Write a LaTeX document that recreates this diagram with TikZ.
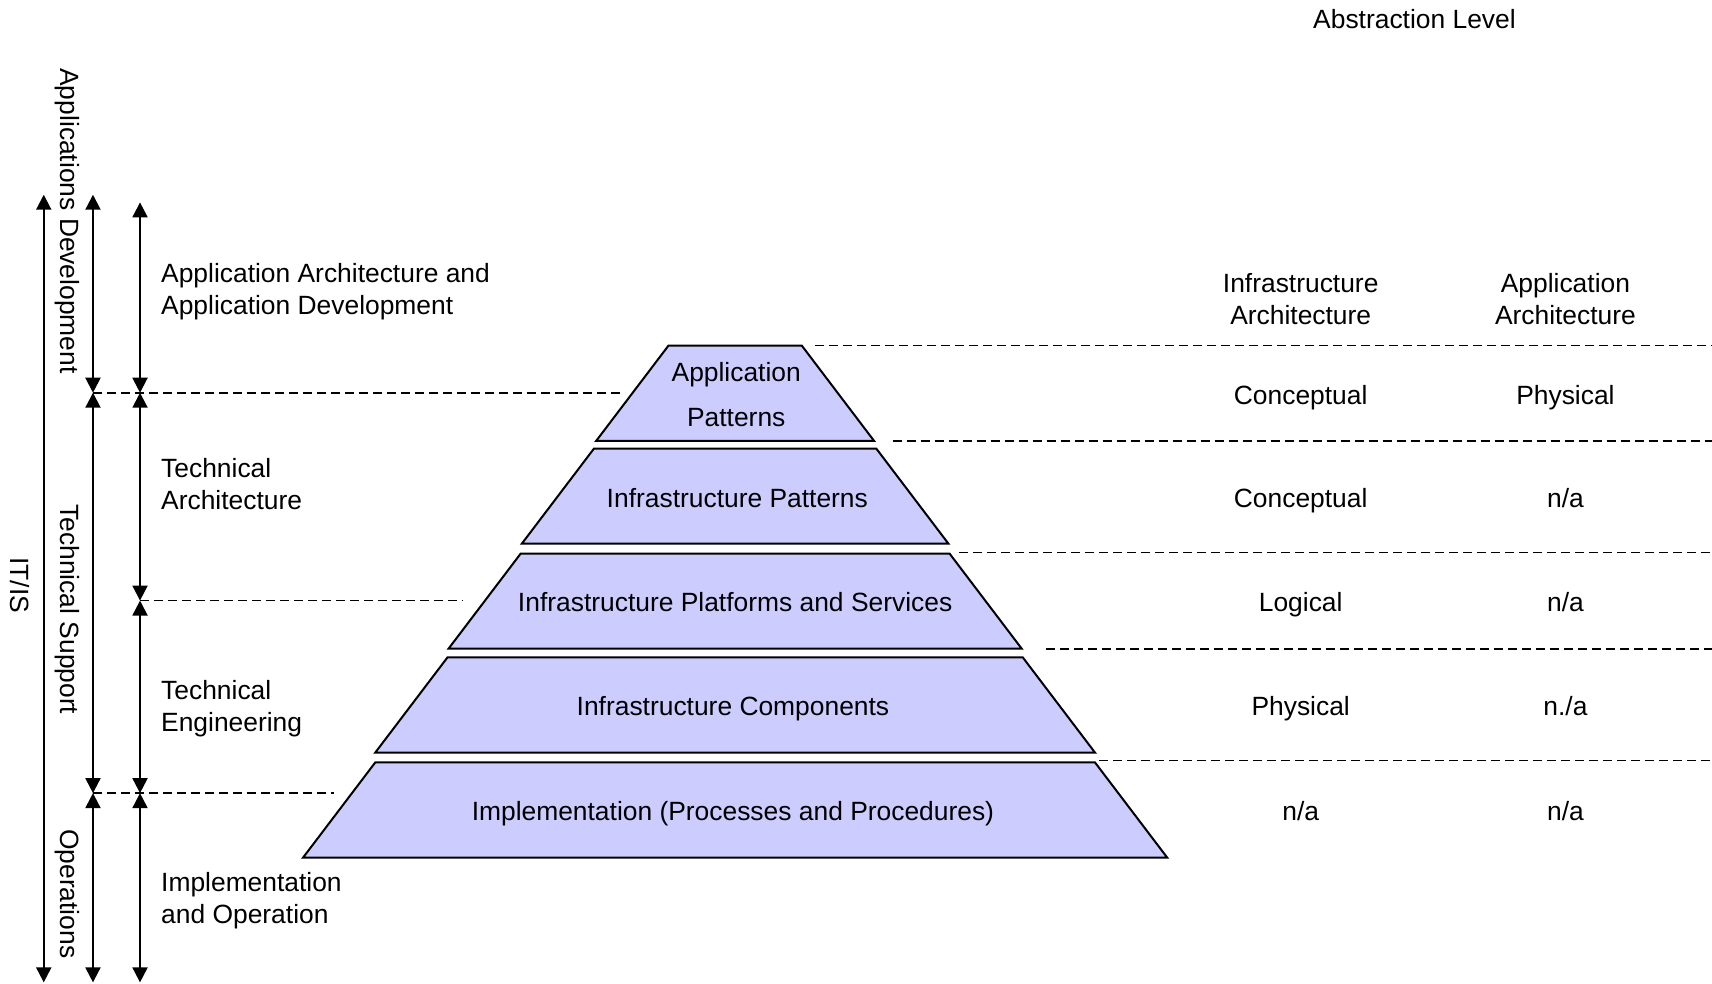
\documentclass[tikz,border=0pt]{standalone}
\usepackage{fontspec}
\setmainfont{Liberation Sans}
\usetikzlibrary{arrows.meta}
\definecolor{layerblue}{HTML}{CCCCFF}
\tikzset{>={Triangle[width=7.5pt,length=7.5pt]}}
\tikzset{
  layer/.style={draw=black, line width=1pt, fill=layerblue},
  lbl/.style={inner sep=0pt, font=\fontsize{13.2}{15.9}\selectfont},
  sidelbl/.style={lbl, align=left, anchor=west},
  collbl/.style={lbl, align=center},
  rowlbl/.style={lbl, text height=10.5pt, text depth=1pt},
  vertlbl/.style={lbl, rotate=-90},
  sepline/.style={dash pattern=on 4.5pt off 2.5pt, line width=0.8pt},
  rangearrow/.style={<->, line width=1pt}
}

\begin{document}
\begin{tikzpicture}[x=0.547pt, y=-0.547pt]
\useasboundingbox (0,0) rectangle (1565,898.6);
% pyramid layers
\foreach \yt/\hw in {316/61, 410/129, 506/196, 601/263, 697/329}
  \draw[layer] (672-\hw,\yt) -- (672+\hw,\yt) -- (672+\hw+66,\yt+87)
    -- (672-\hw-66,\yt+87) -- cycle;
\node[collbl] (appat) at (673,360.5) {Application\\[6.5pt]Patterns};
\node[rowlbl] (infpat) at (674,455) {Infrastructure Patterns};
\node[rowlbl] (infplat) at (672,550) {Infrastructure Platforms and Services};
\node[rowlbl] (infcomp) at (670,645) {Infrastructure Components};
\node[rowlbl] (impl) at (670,741) {Implementation (Processes and Procedures)};

% arrow end points
\coordinate (a1) at (40,178);  \coordinate (a2) at (40,898);
\coordinate (b1) at (85,178);  \coordinate (b2) at (85,359);
\coordinate (b3) at (85,725);  \coordinate (b4) at (85,898);
\coordinate (c1) at (128,185); \coordinate (c2) at (128,359);
\coordinate (c3) at (128,549); \coordinate (c4) at (128,725);
\coordinate (c5) at (128,898);
\draw[rangearrow] (a1) -- (a2);
\draw[rangearrow] (b1) -- (b2);
\draw[rangearrow] (b2) -- (b3);
\draw[rangearrow] (b3) -- (b4);
\draw[rangearrow] (c1) -- (c2);
\draw[rangearrow] (c2) -- (c3);
\draw[rangearrow] (c3) -- (c4);
\draw[rangearrow] (c4) -- (c5);

% dashed level lines
\coordinate (l1) at (570,359);
\coordinate (l2) at (423,549);
\coordinate (l3) at (305,725);
\draw[sepline] (b2) -- (l1);
\draw[sepline] (c3) -- (l2);
\draw[sepline] (b3) -- (l3);
\foreach \ys/\xs in {316/745, 403/816, 505/877, 593/956, 695/1005}
  \draw[sepline] (\xs,\ys) -- (1565,\ys);

% vertical labels
\node[vertlbl] (itis) at (18,535) {IT/IS};
\node[vertlbl] (appdev) at (62,202) {Applications Development};
\node[vertlbl] (techsup) at (62,557) {Technical Support};
\node[vertlbl] (ops) at (62,817) {Operations};

% left labels
\node[sidelbl] (aaad) at (147,266.5) {Application Architecture and\\Application Development};
\node[sidelbl] (techarch) at (147,442.5) {Technical\\Architecture};
\node[sidelbl] (techeng) at (147,647.5) {Technical\\Engineering};
\node[sidelbl] (implop) at (147,823.5) {Implementation\\and Operation};

% abstraction level table
\node[rowlbl] (abst) at (1293,17) {Abstraction Level};
\node[collbl] (infarch) at (1189,273.5) {Infrastructure\\Architecture};
\node[collbl] (apparch) at (1431,273.5) {Application\\Architecture};
\foreach \y/\inf/\app [count=\i] in {361/Conceptual/Physical, 455/Conceptual/n\slash a,
    550/Logical/n\slash a, 645/Physical/n.\slash a, 741/n\slash a/n\slash a} {
  \node[rowlbl] (inf\i) at (1189,\y) {\inf};
  \node[rowlbl] (app\i) at (1431,\y) {\app};
}
\end{tikzpicture}
\end{document}
